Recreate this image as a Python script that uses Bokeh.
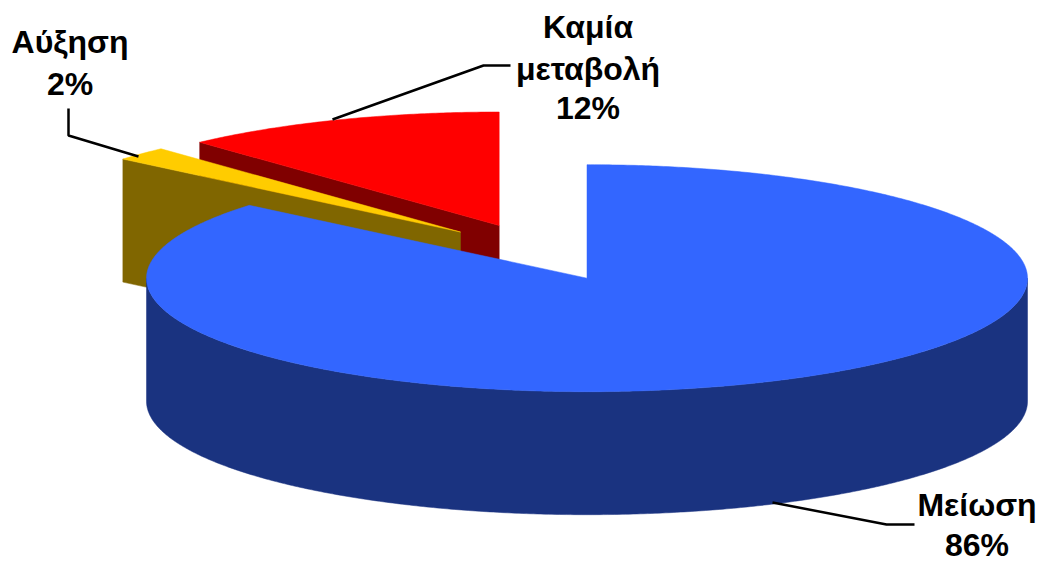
import numpy as np
from bokeh.plotting import figure
from bokeh.models import Range1d
from bokeh.core.properties import value
from bokeh.embed import file_html
from bokeh.resources import INLINE

# data, in the order the slices run clockwise from 12 o'clock
names = ["Μείωση", "Αύξηση", "Καμία μεταβολή"]
shares = [86.1, 2.0, 11.9]
top_colors = ["#3366FF", "#FFCC00", "#FF0000"]
wall_colors = ["#1A3380", "#806600", "#800000"]

# geometry of the projected pie, in page pixels
apexes = [(586.5, 277.7), (460, 231.5), (498.7, 225)]
RX, RY, DEPTH = 440.5, 113.5, 123

p = figure(width=1040, height=563, output_backend="svg", toolbar_location=None,
           x_range=Range1d(0, 1040), y_range=Range1d(563, 0),
           min_border=0, outline_line_color=None, background_fill_color="white")
p.axis.visible = False
p.grid.visible = False

edges = np.cumsum([0] + shares) / sum(shares) * 2 * np.pi


def rim(apex, a, b):
    t = np.linspace(a, b, max(3, int(abs(b - a) * 120)))
    return apex[0] + RX * np.sin(t), apex[1] - RY * np.cos(t)


def draw_slice(i):
    apex, a, b = apexes[i], edges[i], edges[i + 1]
    # front outer wall (only the part of the arc facing the viewer)
    lo, hi = max(a, np.pi / 2), min(b, 3 * np.pi / 2)
    if lo < hi:
        x, y = rim(apex, lo, hi)
        p.patch(np.r_[x, x[::-1]], np.r_[y, y[::-1] + DEPTH],
                fill_color=wall_colors[i], line_color=wall_colors[i], line_width=0.5)
    # cut face running from the apex to the slice's start edge, when it faces the viewer
    if a > np.pi:
        x, y = rim(apex, a, a)
        p.patch([apex[0], x[0], x[0], apex[0]],
                [apex[1], y[0], y[0] + DEPTH, apex[1] + DEPTH],
                fill_color=wall_colors[i], line_color=wall_colors[i], line_width=0.5)
    # top face
    x, y = rim(apex, a, b)
    p.patch(np.r_[apex[0], x], np.r_[apex[1], y],
            fill_color=top_colors[i], line_color=top_colors[i], line_width=0.5)


# far slices first, the big one last
for i in [2, 1, 0]:
    draw_slice(i)

# leader lines
leaders_x = [[772, 886, 914], [138, 68, 68], [332, 483, 510]]
leaders_y = [[502, 524, 524], [156, 135, 108], [119, 65, 65]]
p.multi_line(leaders_x, leaders_y, line_color="black", line_width=2.5)

# labels
label_lines = [["Μείωση", f"{round(shares[0])}%"],
               ["Αύξηση", f"{round(shares[1])}%"],
               ["Καμία", "μεταβολή", f"{round(shares[2])}%"]]
label_x = [976.5, 69.5, 587.5]
label_y = [[504, 544], [41.5, 83], [26, 68, 107.5]]
for lines, lx, ys in zip(label_lines, label_x, label_y):
    p.text([lx] * len(lines), ys, text=lines, text_align="center", text_baseline="middle",
           text_font=value("Liberation Sans"), text_font_style="bold",
           text_font_size="32px", text_color="black")

open("out.html", "w").write(file_html(p, INLINE))
